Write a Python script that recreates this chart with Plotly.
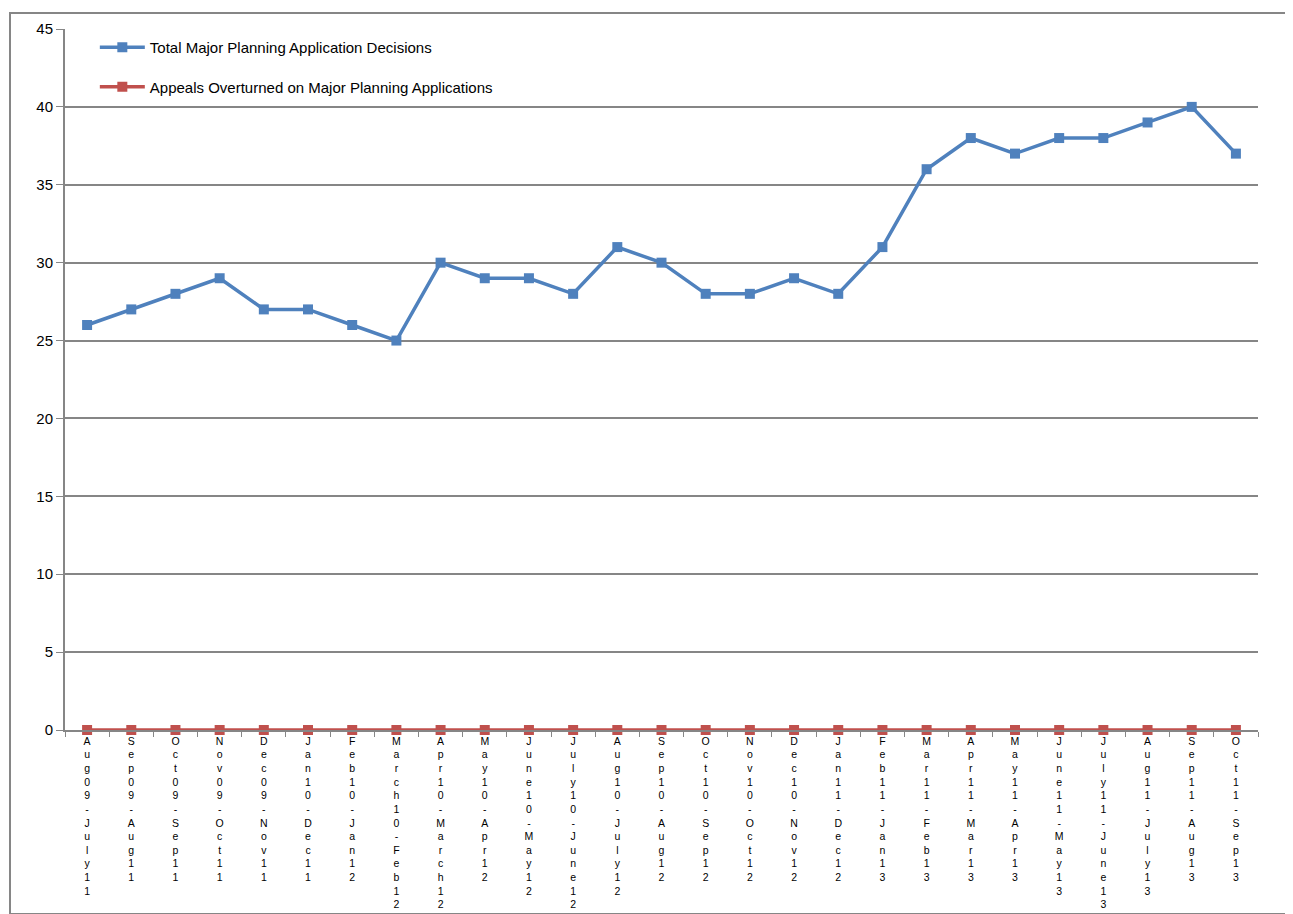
import plotly.graph_objects as go

periods = ["Aug09-July11", "Sep09-Aug11", "Oct09-Sep11", "Nov09-Oct11", "Dec09-Nov11",
           "Jan10-Dec11", "Feb10-Jan12", "March10-Feb12", "Apr10-March12", "May10-Apr12",
           "June10-May12", "July10-June12", "Aug10-July12", "Sep10-Aug12", "Oct10-Sep12",
           "Nov10-Oct12", "Dec10-Nov12", "Jan11-Dec12", "Feb11-Jan13", "Mar11-Feb13",
           "Apr11-Mar13", "May11-Apr13", "June11-May13", "July11-June13", "Aug11-July13",
           "Sep11-Aug13", "Oct11-Sep13"]
total_decisions = [26, 27, 28, 29, 27, 27, 26, 25, 30, 29, 29, 28, 31, 30, 28, 28, 29, 28,
                   31, 36, 38, 37, 38, 38, 39, 40, 37]
appeals_overturned = [0] * 27
y_ticks = [0, 5, 10, 15, 20, 25, 30, 35, 40, 45]

stacked = ["<br>".join(list(p)) for p in periods]

fig = go.Figure()
fig.add_trace(go.Scatter(
    x=periods, y=total_decisions, mode="lines+markers",
    name="Total Major Planning Application Decisions",
    line=dict(color="#4F81BD", width=3.5),
    marker=dict(symbol="square", size=10, color="#4F81BD"),
    legendgroup="a", cliponaxis=False))
fig.add_trace(go.Scatter(
    x=periods, y=appeals_overturned, mode="lines+markers",
    name="Appeals Overturned on Major Planning Applications",
    line=dict(color="#C0504D", width=3.5),
    marker=dict(symbol="square", size=10, color="#C0504D"),
    legendgroup="b", cliponaxis=False))

PW, PH = 1193, 705
fig.update_layout(
    width=1293, height=914,
    margin=dict(l=57, r=43, t=18, b=191),
    paper_bgcolor="white", plot_bgcolor="white",
    font=dict(family="Liberation Sans, Arial, sans-serif", size=14, color="black"),
    showlegend=True,
    legend=dict(x=0.025, y=0.997, xanchor="left", yanchor="top",
                bgcolor="rgba(0,0,0,0)", tracegroupgap=17, itemwidth=45,
                font=dict(size=15)),
    xaxis=dict(type="category", tickmode="array", tickvals=periods, ticktext=stacked,
               tickangle=0, tickfont=dict(size=10.5), range=[-0.5, 26.5],
               showline=True, linecolor="#868686", linewidth=2,
               ticks="outside", tickson="boundaries", ticklen=5, tickcolor="#868686",
               showgrid=False),
    yaxis=dict(range=[0, 45], tickvals=y_ticks, showline=True, linecolor="#868686",
               linewidth=2, ticks="outside", ticklen=7, tickcolor="#868686",
               showgrid=True, gridcolor="#868686", gridwidth=1.5, zeroline=False,
               tickfont=dict(size=15)),
)

# outer chart border
fig.add_shape(type="rect", xref="paper", yref="paper",
              x0=-55/PW, x1=1+28/PW, y0=-185/PH, y1=1+16/PH,
              line=dict(color="#868686", width=2), fillcolor="rgba(0,0,0,0)", layer="below")

fig.write_html("out.html")
